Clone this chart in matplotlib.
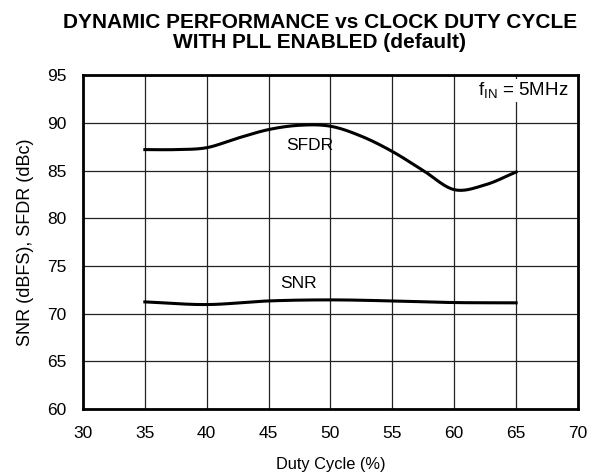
import numpy as np
import matplotlib
matplotlib.use("Agg")
import matplotlib.pyplot as plt

plt.rcParams['font.family'] = ['Liberation Sans', 'DejaVu Sans']
plt.rcParams['mathtext.fontset'] = 'custom'
plt.rcParams['mathtext.rm'] = 'Liberation Sans'

duty = [35, 37.5, 40, 42.5, 45, 47.5, 50, 52.5, 55, 57.5, 60, 62.5, 65]
sfdr = [87.2, 87.2, 87.4, 88.4, 89.3, 89.75, 89.65, 88.6, 87.0, 85.0, 83.0, 83.5, 84.85]
snr_x = [35, 40, 45, 50, 55, 60, 65]
snr = [71.23, 70.95, 71.33, 71.44, 71.33, 71.16, 71.13]

xticks = [30, 35, 40, 45, 50, 55, 60, 65, 70]
yticks = [60, 65, 70, 75, 80, 85, 90, 95]


def smooth(x, y):
    # Catmull-Rom rendering of the read points
    x = np.asarray(x, float); y = np.asarray(y, float)
    px = np.concatenate([[2*x[0]-x[1]], x, [2*x[-1]-x[-2]]])
    py = np.concatenate([[2*y[0]-y[1]], y, [2*y[-1]-y[-2]]])
    xs, ys = [], []
    for i in range(1, len(px)-2):
        t = np.linspace(0, 1, 30, endpoint=(i == len(px)-3))
        p0, p1, p2, p3 = [np.array([px[j], py[j]]) for j in range(i-1, i+3)]
        t2, t3 = t*t, t*t*t
        pts = 0.5*((2*p1)[:, None] + (-p0+p2)[:, None]*t + (2*p0-5*p1+4*p2-p3)[:, None]*t2
                   + (-p0+3*p1-3*p2+p3)[:, None]*t3)
        xs.append(pts[0]); ys.append(pts[1])
    return np.concatenate(xs), np.concatenate(ys)


fig = plt.figure(figsize=(6.03, 4.76), dpi=100)
ax = fig.add_axes([0.1376, 0.1408, 0.8209, 0.7012])

ax.set_xlim(30, 70)
ax.set_ylim(60, 95)
ax.set_xticks(xticks)
ax.set_yticks(yticks)
ax.grid(True, color='#222222', linewidth=0.9)
ax.set_axisbelow(True)
ax.tick_params(length=0, labelsize=12.5, pad=12)
for s in ax.spines.values():
    s.set_linewidth(2)

sx, sy = smooth(duty, sfdr)
ax.plot(sx, sy, color='black', linewidth=2.2)
nx, ny = smooth(snr_x, snr)
ax.plot(nx, ny, color='black', linewidth=2.2)

ax.text(48.35, 87.6, 'SFDR', ha='center', va='center', fontsize=12.5)
ax.text(47.4, 73.2, 'SNR', ha='center', va='center', fontsize=12.5)
ax.text(69.25, 93.4, r'f$_{\mathrm{IN}}$ = 5MHz', ha='right', va='center', fontsize=13.5,
        bbox=dict(facecolor='white', edgecolor='none', pad=1))

ax.set_xlabel('Duty Cycle (%)', fontsize=11.8, labelpad=12)
ax.set_ylabel('SNR (dBFS), SFDR (dBc)', fontsize=13, labelpad=9)
fig.text(0.53, 0.931, 'DYNAMIC PERFORMANCE vs CLOCK DUTY CYCLE\nWITH PLL ENABLED (default)',
         ha='center', va='center', fontsize=15, fontweight='bold', linespacing=1.08)

fig.savefig('out.png', dpi=100, facecolor='white')
